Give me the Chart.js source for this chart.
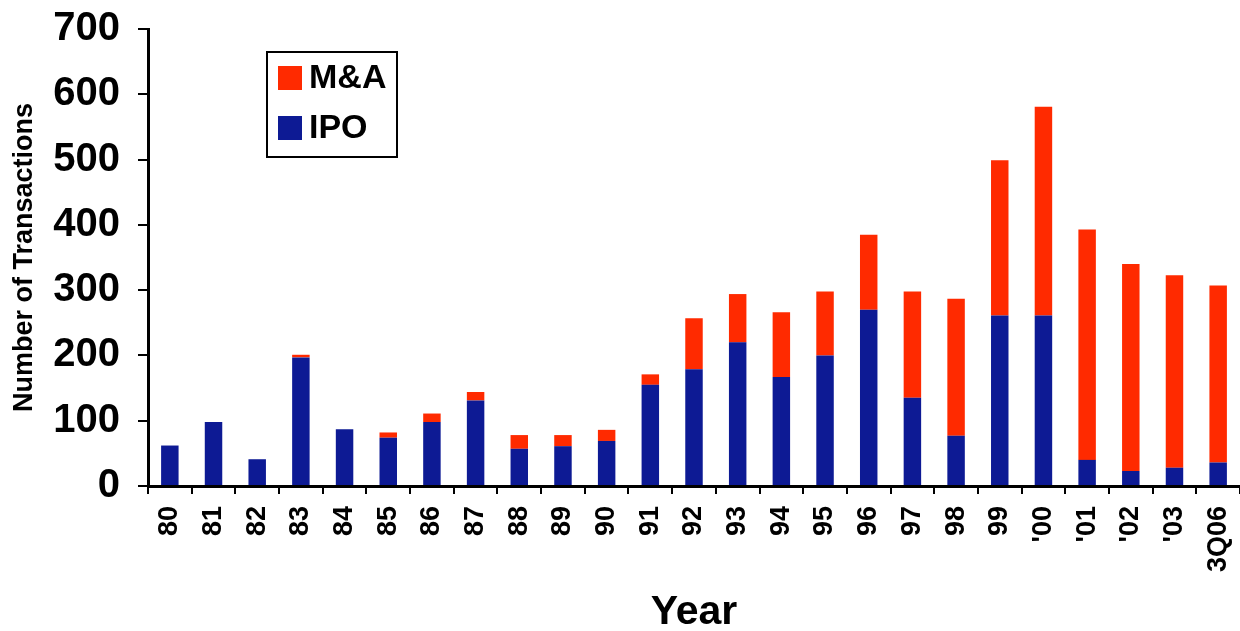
<!DOCTYPE html>
<html>
<head>
<meta charset="utf-8">
<script src="https://cdn.jsdelivr.net/npm/chart.js@4.4.0/dist/chart.umd.min.js"></script>
<style>
    html, body { margin: 0; padding: 0; background: #ffffff; }
    #wrap { width: 1240px; height: 631px; }
</style>
</head>
<body>
<div id="wrap"><canvas id="dealChart" width="1240" height="631"></canvas></div>
<script>
const years = ['80', '81', '82', '83', '84', '85', '86', '87', '88', '89', '90', '91', '92',
    '93', '94', '95', '96', '97', '98', '99', "'00", "'01", "'02", "'03", '3Q06'];
const ipoCounts = [62, 98, 41, 197, 87, 74, 98, 131, 57, 61, 69, 155, 179,
    220, 167, 200, 270, 135, 77, 261, 261, 40, 23, 28, 36];
const maCounts = [0, 0, 0, 4, 0, 8, 13, 13, 21, 17, 17, 16, 78,
    74, 99, 98, 115, 163, 210, 238, 320, 353, 317, 295, 271];
const yTicks = [0, 100, 200, 300, 400, 500, 600, 700];

const FONT = "'Liberation Sans', Arial, sans-serif";

// boxed legend inside the plot, M&A on top like the original
const boxLegend = {
    id: 'boxLegend',
    afterDraw(chart) {
        const ctx = chart.ctx;
        const area = chart.chartArea;
        const x = area.left + 119;
        const y = area.top + 23;
        const items = chart.data.datasets.slice().reverse();

        ctx.save();
        ctx.fillStyle = '#ffffff';
        ctx.fillRect(x, y, 130, 105);
        ctx.lineWidth = 2;
        ctx.strokeStyle = '#000000';
        ctx.strokeRect(x, y, 130, 105);

        ctx.font = 'bold 34px ' + FONT;
        ctx.textBaseline = 'middle';
        items.forEach((ds, i) => {
            const rowY = y + 26 + i * 50;
            ctx.fillStyle = ds.backgroundColor;
            ctx.fillRect(x + 11, rowY - 12, 24, 24);
            ctx.fillStyle = '#000000';
            ctx.fillText(ds.label, x + 42, rowY + 1);
        });
        ctx.restore();
    }
};

const ctx = document.getElementById('dealChart').getContext('2d');
new Chart(ctx, {
    type: 'bar',
    data: {
        labels: years,
        datasets: [{
            label: 'IPO',
            data: ipoCounts,
            backgroundColor: '#0d1a94',
            barPercentage: 0.4,
            categoryPercentage: 1.0
        }, {
            label: 'M&A',
            data: maCounts,
            backgroundColor: '#ff2a00',
            barPercentage: 0.4,
            categoryPercentage: 1.0
        }]
    },
    options: {
        responsive: false,
        animation: false,
        layout: {
            padding: { top: 29, right: 0, bottom: 0, left: 0 }
        },
        plugins: {
            legend: { display: false },
            tooltip: { enabled: false }
        },
        scales: {
            x: {
                stacked: true,
                afterFit(scale) {
                    scale.height = 145;
                    scale.paddingLeft = 0;
                    scale.paddingRight = 0;
                },
                grid: {
                    display: true,
                    offset: true,
                    drawOnChartArea: false,
                    drawTicks: true,
                    tickLength: 8,
                    color: '#000000',
                    lineWidth: 2
                },
                border: { display: true, color: '#000000', width: 3 },
                ticks: {
                    color: '#000000',
                    font: { family: FONT, size: 27, weight: 'bold' },
                    minRotation: 90,
                    maxRotation: 90,
                    autoSkip: false,
                    padding: 12
                },
                title: {
                    display: true,
                    text: 'Year',
                    color: '#000000',
                    font: { family: FONT, size: 41, weight: 'bold' },
                    padding: { top: 0, bottom: -6 }
                }
            },
            y: {
                stacked: true,
                min: 0,
                max: 700,
                afterFit(scale) {
                    scale.width = 148;
                    scale.paddingTop = 0;
                    scale.paddingBottom = 0;
                },
                afterBuildTicks(scale) {
                    scale.ticks = yTicks.map(v => ({ value: v }));
                },
                grid: {
                    display: true,
                    drawOnChartArea: false,
                    drawTicks: true,
                    tickLength: 10,
                    color: '#000000',
                    lineWidth: 2
                },
                border: { display: true, color: '#000000', width: 3 },
                ticks: {
                    color: '#000000',
                    font: { family: FONT, size: 40, weight: 'bold' },
                    padding: 18
                },
                title: {
                    display: true,
                    text: 'Number of Transactions',
                    color: '#000000',
                    font: { family: FONT, size: 27, weight: 'bold' },
                    padding: { top: 8, bottom: 0 }
                }
            }
        }
    },
    plugins: [boxLegend]
});
</script>
</body>
</html>
